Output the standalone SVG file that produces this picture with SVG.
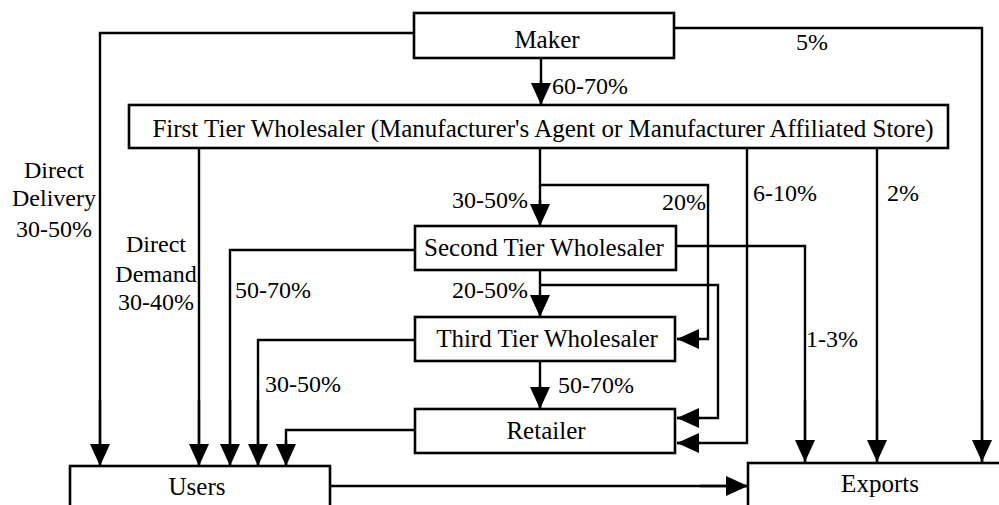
<svg xmlns="http://www.w3.org/2000/svg" width="999" height="505" viewBox="0 0 999 505">
<style>
.box{fill:#fff;stroke:#000;stroke-width:2.6}
.ln{fill:none;stroke:#000;stroke-width:2.4}
.ar{marker-end:url(#ah)}
text{font-family:"Liberation Serif","Times New Roman",serif;fill:#000}
.bt{font-size:25px;text-anchor:middle}
.lb{font-size:24px}
.mid{text-anchor:middle}
.end{text-anchor:end}
</style>
<defs>
<marker id="ah" markerUnits="userSpaceOnUse" markerWidth="22" markerHeight="20" refX="22" refY="10" orient="auto" overflow="visible">
<path d="M0,0 L22,10 L0,20 Z" fill="#000"/>
</marker>
</defs>
<rect width="999" height="505" fill="#fff"/>
<g id="connectors">
<path class="ln" d="M414,33 H100 V466"/>
<path class="ln" d="M674,28 H982 V462"/>
<path class="ln" d="M541,58 V105"/>
<path class="ln" d="M199,148 V466"/>
<path class="ln" d="M540,148 V226"/>
<path class="ln" d="M540,185 H708 V339 H677"/>
<path class="ln" d="M747,148 V443 H677"/>
<path class="ln" d="M877,148 V462"/>
<path class="ln" d="M676,246 H805 V462"/>
<path class="ln" d="M415,250 H230 V466"/>
<path class="ln" d="M540,270 V317"/>
<path class="ln" d="M540,285 H718 V418 H677"/>
<path class="ln" d="M415,340 H258 V466"/>
<path class="ln" d="M540,361 V409"/>
<path class="ln" d="M415,430 H286 V466"/>
<path class="ln" d="M330,486 H748"/>
<g stroke="none">
<path class="ln ar" d="M100,400 V466"/>
<path class="ln ar" d="M982,400 V462"/>
<path class="ln ar" d="M541,80 V105"/>
<path class="ln ar" d="M199,400 V466"/>
<path class="ln ar" d="M540,200 V226"/>
<path class="ln ar" d="M700,339 H677"/>
<path class="ln ar" d="M700,443 H677"/>
<path class="ln ar" d="M877,400 V462"/>
<path class="ln ar" d="M805,400 V462"/>
<path class="ln ar" d="M230,400 V466"/>
<path class="ln ar" d="M540,295 V317"/>
<path class="ln ar" d="M700,418 H677"/>
<path class="ln ar" d="M258,400 V466"/>
<path class="ln ar" d="M540,385 V409"/>
<path class="ln ar" d="M286,440 V466"/>
<path class="ln ar" d="M700,486 H748"/>
</g>
</g>
<g id="labels" class="lb">
<text x="552" y="94">60-70%</text>
<text x="796" y="50">5%</text>
<text class="mid" x="54" y="178">Direct</text>
<text class="mid" x="54" y="206">Delivery</text>
<text class="mid" x="54" y="237">30-50%</text>
<text class="mid" x="156" y="252">Direct</text>
<text class="mid" x="156" y="282">Demand</text>
<text class="mid" x="156" y="310">30-40%</text>
<text class="end" x="528" y="208">30-50%</text>
<text x="662" y="210">20%</text>
<text x="753" y="201">6-10%</text>
<text x="887" y="201">2%</text>
<text x="235" y="298">50-70%</text>
<text class="end" x="528" y="298">20-50%</text>
<text x="265" y="392">30-50%</text>
<text x="558" y="393">50-70%</text>
<text x="806" y="347">1-3%</text>
</g>
<g id="maker"><rect class="box" x="414" y="13" width="260" height="45"/><text class="bt" x="547" y="48">Maker</text></g>
<g id="first-tier"><rect class="box" x="129" y="105" width="819" height="43"/><text class="bt" x="543" y="137">First Tier Wholesaler (Manufacturer's Agent or Manufacturer Affiliated Store)</text></g>
<g id="second-tier"><rect class="box" x="415" y="226" width="261" height="44"/><text class="bt" x="544" y="256">Second Tier Wholesaler</text></g>
<g id="third-tier"><rect class="box" x="415" y="317" width="260" height="44"/><text class="bt" x="547" y="347">Third Tier Wholesaler</text></g>
<g id="retailer"><rect class="box" x="415" y="409" width="260" height="44"/><text class="bt" x="546" y="439">Retailer</text></g>
<g id="users"><rect class="box" x="70" y="466" width="260" height="60"/><text class="bt" x="197" y="495">Users</text></g>
<g id="exports"><rect class="box" x="748" y="463" width="270" height="60"/><text class="bt" x="880" y="492">Exports</text></g>
</svg>
